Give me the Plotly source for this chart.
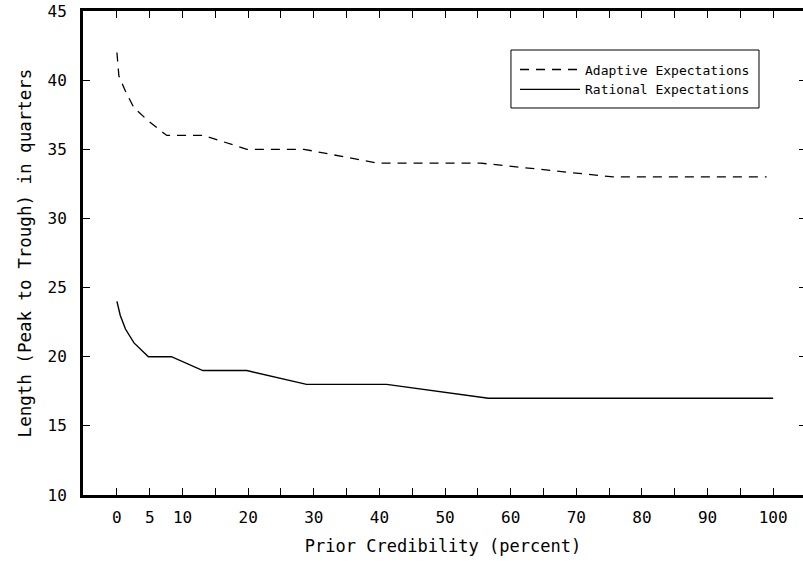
import plotly.graph_objects as go

# Prior credibility (percent) and length (quarters)
adaptive_x = [0, 0.3, 1.3, 2.6, 4.9, 7.6, 13.2, 19.8, 28.5, 39.7, 55.4, 75.6, 99]
adaptive_y = [42, 40.3, 39.2, 38, 37, 36, 36, 35, 35, 34, 34, 33, 33]

rational_x = [0, 0.5, 1.3, 2.6, 4.8, 8.3, 13.1, 19.8, 28.9, 41.1, 56.6, 100]
rational_y = [24, 23, 22, 21, 20, 20, 19, 19, 18, 18, 17, 17]

x_tickvals = list(range(0, 101, 5))
x_ticktext = ["0", "5", "10", "", "20", "", "30", "", "40", "", "50", "",
              "60", "", "70", "", "80", "", "90", "", "100"]
y_tickvals = [10, 15, 20, 25, 30, 35, 40, 45]

FONT = "DejaVu Sans Mono"

fig = go.Figure()
fig.add_trace(go.Scatter(
    x=adaptive_x, y=adaptive_y, mode="lines", name="Adaptive Expectations",
    line=dict(color="black", width=1.3, dash="9px,7px"),
))
fig.add_trace(go.Scatter(
    x=rational_x, y=rational_y, mode="lines", name="Rational Expectations",
    line=dict(color="black", width=1.4),
))
# helper trace so the right-hand tick axis is drawn
fig.add_trace(go.Scatter(x=[None], y=[None], yaxis="y2", showlegend=False,
                         hoverinfo="skip"))

fig.update_layout(
    width=803, height=562,
    margin=dict(l=83, r=0, t=11, b=67),
    paper_bgcolor="white", plot_bgcolor="white",
    font=dict(family=FONT, color="black", size=16),
    showlegend=True,
    legend=dict(
        x=0.6, y=0.91, xanchor="left", yanchor="top",
        borderwidth=0, bgcolor="rgba(0,0,0,0)",
        font=dict(family=FONT, size=13),
        tracegroupgap=0, itemwidth=60,
    ),
    shapes=[dict(type="rect", xref="paper", yref="paper",
                 x0=0.5944, x1=0.9389, y0=0.7996, y1=0.9194,
                 line=dict(color="black", width=1), fillcolor="rgba(0,0,0,0)",
                 layer="above")],
    xaxis=dict(
        range=[-5.17, 104.55],
        tickvals=x_tickvals, ticktext=x_ticktext,
        ticks="inside", ticklen=7, tickwidth=1.3, tickcolor="black",
        showline=True, linewidth=3, linecolor="black", mirror="ticks",
        showgrid=False, zeroline=False,
        tickfont=dict(family=FONT, size=16),
        ticklabelstandoff=6,
        title=dict(text="Prior Credibility (percent)",
                   font=dict(family=FONT, size=17), standoff=14),
    ),
    yaxis=dict(
        range=[10, 45],
        tickvals=y_tickvals,
        ticks="inside", ticklen=7, tickwidth=1.3, tickcolor="black",
        showline=True, linewidth=3, linecolor="black",
        showgrid=False, zeroline=False,
        tickfont=dict(family=FONT, size=16),
        ticklabelstandoff=10,
        title=dict(text="Length (Peak to Trough) in quarters",
                   font=dict(family=FONT, size=17.5), standoff=12),
    ),
    yaxis2=dict(
        range=[10, 45], overlaying="y", side="right",
        tickvals=y_tickvals, showticklabels=False,
        ticks="inside", ticklen=4, tickwidth=1.3, tickcolor="black",
        showline=False, showgrid=False, zeroline=False,
    ),
)

fig.write_html("out.html")
